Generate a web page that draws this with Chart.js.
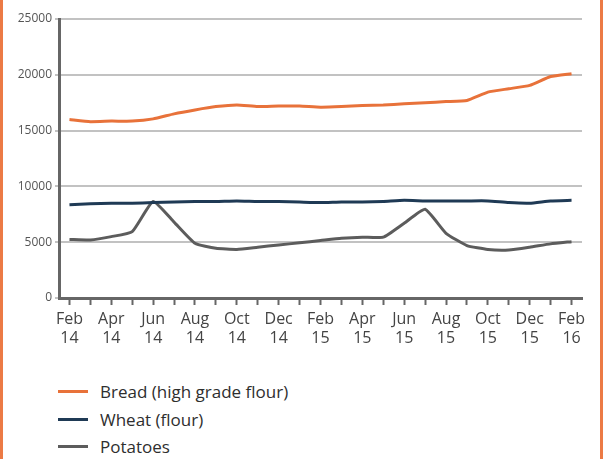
<!DOCTYPE html>
<html>
<head>
<meta charset="utf-8">
<script src="https://cdn.jsdelivr.net/npm/chart.js@4.4.1/dist/chart.umd.min.js"></script>
<style>
  html, body { margin: 0; padding: 0; background: #fff; }
  #wrap {
    position: relative; width: 603px; height: 459px; box-sizing: border-box;
    border-left: 3px solid #ec7a45; border-right: 3px solid #ec7a45;
    font-family: "Open Sans", sans-serif; overflow: hidden;
  }
  #chart { position: absolute; left: -3px; top: 0; }
  #legend { position: absolute; left: 55px; top: 378px; margin: 0; padding: 0; list-style: none; }
  #legend li { height: 27.5px; display: flex; align-items: center; font-size: 17px; color: #2e2e2e; }
  #legend span { display: inline-block; width: 30px; height: 3px; margin-right: 12px; }
</style>
</head>
<body>
<div id="wrap">
  <canvas id="chart" width="603" height="350"></canvas>
  <ul id="legend"></ul>
</div>
<script>
const months = ["Feb 14", "Mar 14", "Apr 14", "May 14", "Jun 14", "Jul 14", "Aug 14", "Sep 14",
  "Oct 14", "Nov 14", "Dec 14", "Jan 15", "Feb 15", "Mar 15", "Apr 15", "May 15", "Jun 15",
  "Jul 15", "Aug 15", "Sep 15", "Oct 15", "Nov 15", "Dec 15", "Jan 16", "Feb 16"];

const bread = [16000, 15800, 15850, 15850, 16050, 16500, 16850, 17150, 17300, 17150, 17200, 17200,
  17100, 17150, 17250, 17300, 17400, 17500, 17600, 17700, 18450, 18750, 19050, 19850, 20100];

const wheat = [8350, 8450, 8500, 8500, 8550, 8600, 8650, 8650, 8700, 8650, 8650, 8600,
  8550, 8600, 8600, 8650, 8750, 8700, 8700, 8700, 8700, 8550, 8500, 8700, 8750];

const potatoes = [5250, 5200, 5500, 5950, 8650, 6800, 4900, 4450, 4350, 4550, 4750, 4950,
  5150, 5350, 5450, 5450, 6700, 7950, 5800, 4700, 4350, 4300, 4550, 4850, 5050];

const yTicks = [0, 5000, 10000, 15000, 20000, 25000];

const series = [
  { label: "Bread (high grade flour)", data: bread, color: "#e8723a" },
  { label: "Wheat (flour)", data: wheat, color: "#1f3a55" },
  { label: "Potatoes", data: potatoes, color: "#5c5c5c" }
];

const chart = new Chart(document.getElementById("chart"), {
  type: "line",
  data: {
    labels: months,
    datasets: series.map(s => ({
      label: s.label,
      data: s.data,
      borderColor: s.color,
      backgroundColor: s.color,
      borderWidth: 3,
      pointRadius: 0,
      tension: 0.15
    }))
  },
  options: {
    responsive: false,
    animation: false,
    layout: { padding: { left: 0, right: 21, top: 19, bottom: 0 } },
    plugins: { legend: { display: false }, tooltip: { enabled: false } },
    scales: {
      x: {
        offset: true,
        grid: { offset: false, drawOnChartArea: false, tickLength: 7, tickWidth: 2, tickColor: "#666" },
        border: { color: "#666", width: 3 },
        ticks: {
          autoSkip: false, maxRotation: 0, padding: 5,
          color: "#444", font: { family: "Open Sans", size: 16, lineHeight: 1.2 },
          callback: function (v, i) {
            return i % 2 === 0 ? months[i].split(" ") : "";
          }
        },
        afterFit: function (scale) { scale.height = 52; }
      },
      y: {
        min: 0, max: 25000,
        afterBuildTicks: function (scale) { scale.ticks = yTicks.map(v => ({ value: v })); },
        grid: { color: "#c2c2c2", lineWidth: 2, tickLength: 4 },
        border: { color: "#666", width: 3 },
        ticks: {
          padding: 3, color: "#555", font: { family: "Open Sans", size: 12 },
          callback: function (v) { return String(v); }
        },
        afterFit: function (scale) { scale.width = 59; }
      }
    }
  }
});

const legend = document.getElementById("legend");
series.forEach(s => {
  const li = document.createElement("li");
  const sw = document.createElement("span");
  sw.style.background = s.color;
  li.appendChild(sw);
  li.appendChild(document.createTextNode(s.label));
  legend.appendChild(li);
});
</script>
</body>
</html>
